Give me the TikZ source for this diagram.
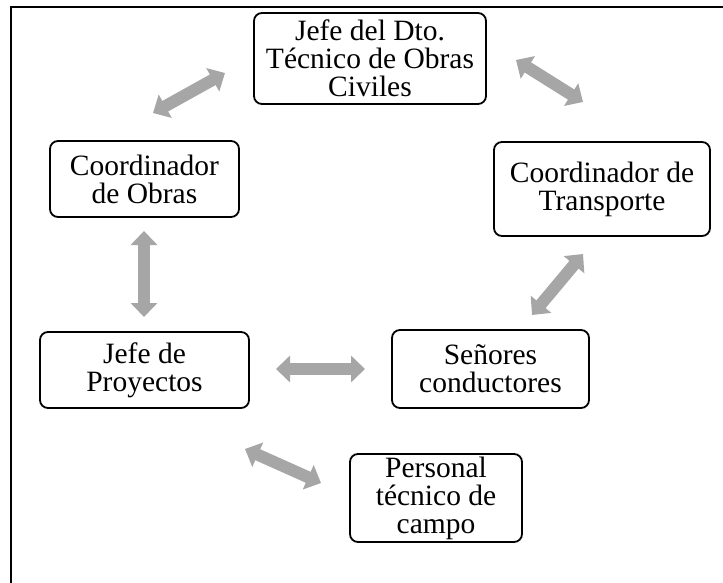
\documentclass[tikz,border=0pt]{standalone}
\usepackage{fontspec}
\setmainfont{Liberation Serif}
\usetikzlibrary{arrows.meta}

\begin{document}
\begin{tikzpicture}[x=1pt,y=-1pt,
  caja/.style={draw, line width=1.8pt, rounded corners=8pt, align=center, inner sep=0pt,
    font=\fontsize{29.5}{28}\selectfont},
  flecha/.style={line width=12pt, color=gris, {Triangle[width=26pt,length=14pt]}-{Triangle[width=26pt,length=14pt]}}]
\definecolor{gris}{HTML}{A6A6A6}
\useasboundingbox (0,0) rectangle (723,583);
\draw[line width=2pt] (11,583) -- (11,7) -- (723,7);
\node[caja, minimum width=232pt, minimum height=91pt] (jefedto) at (370,58.5) {Jefe del Dto.\\Técnico de Obras\\Civiles};
\node[caja, minimum width=189pt, minimum height=76pt] (cobras) at (144.5,179) {Coordinador\\de Obras};
\node[caja, minimum width=216pt, minimum height=94pt] (ctransp) at (602,189) {Coordinador de\\Transporte};
\node[caja, minimum width=209pt, minimum height=76pt] (jproy) at (144.5,370) {Jefe de\\Proyectos};
\node[caja, minimum width=197pt, minimum height=78pt] (senores) at (490.5,369) {Señores\\conductores};
\node[caja, minimum width=172pt, minimum height=88pt] (personal) at (436,498) {Personal\\técnico de\\campo};
\coordinate (a1) at (153,113);
\coordinate (b1) at (225,73);
\coordinate (a2) at (516,60);
\coordinate (b2) at (583,102);
\coordinate (a3) at (144,231);
\coordinate (b3) at (144,317);
\coordinate (a4) at (276,369);
\coordinate (b4) at (365,369);
\coordinate (a5) at (532,315);
\coordinate (b5) at (583,254);
\coordinate (a6) at (245,449);
\coordinate (b6) at (321,483);
\draw[flecha] (a1) -- (b1);
\draw[flecha] (a2) -- (b2);
\draw[flecha] (a3) -- (b3);
\draw[flecha] (a4) -- (b4);
\draw[flecha] (a5) -- (b5);
\draw[flecha] (a6) -- (b6);
\end{tikzpicture}
\end{document}
